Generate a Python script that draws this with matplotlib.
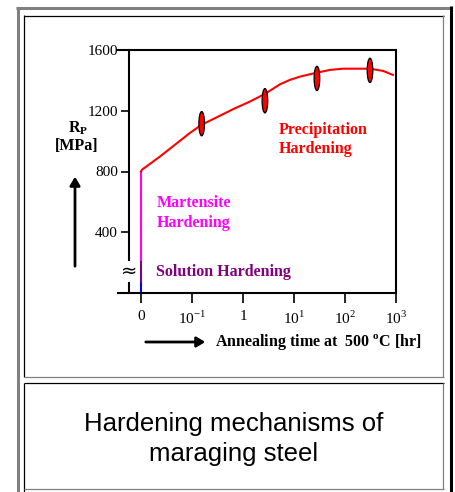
import numpy as np
import matplotlib
matplotlib.use("Agg")
import matplotlib.pyplot as plt
from matplotlib.patches import Ellipse
from matplotlib.lines import Line2D

plt.rcParams['font.family'] = ['Liberation Serif', 'DejaVu Serif']
plt.rcParams['mathtext.fontset'] = 'custom'
plt.rcParams['mathtext.rm'] = 'Liberation Serif'
plt.rcParams['mathtext.bf'] = 'Liberation Serif:bold'

# data (x position: 0 = "0", then one step per decade from 10^-1 to 10^3)
tick_pos = [0, 1, 2, 3, 4, 5]
tick_labels = ['0', '10$^{-1}$', '1', '10$^{1}$', '10$^{2}$', '10$^{3}$']
y_ticks = [400, 800, 1200, 1600]

# vertical jump at t = 0
solution_rng = [0, 72]
solution2_rng = [72, 216]
martensite_rng = [216, 800]

# precipitation curve
curve_x = [0, 0.02, 0.37, 0.96, 1.19, 1.48, 1.81, 2.14, 2.43, 2.73, 2.92,
           3.12, 3.31, 3.45, 3.71, 3.96, 4.49, 4.75, 4.94]
curve_y = [800, 812, 898, 1054, 1108, 1156, 1211, 1261, 1311, 1375, 1403,
           1425, 1440, 1451, 1469, 1477, 1477, 1462, 1436]

# scatter bands of measurements
meas_x = [1.19, 2.43, 3.45, 4.49]
meas_y = [1115, 1266, 1413, 1466]

W, H = 456, 492
fig = plt.figure(figsize=(W / 100, H / 100), dpi=100)


def fx(x):
    return x / W


def fy(y):
    return 1 - y / H


def fline(xs, ys, color, lw):
    fig.add_artist(Line2D([fx(v) for v in xs], [fy(v) for v in ys],
                          color=color, lw=lw, transform=fig.transFigure,
                          solid_capstyle='butt'))


# outer frame
fline([16, 451], [8, 8], '#808080', 2.2)
fline([17.5, 17.5], [7, 492], '#808080', 2.2)
fline([451.5, 451.5], [6, 492], 'black', 2.2)
# chart panel
fline([24, 444], [15.5, 15.5], 'black', 0.9)
fline([24.5, 24.5], [15, 377], 'black', 0.9)
fline([443.5, 443.5], [15, 377], '#808080', 0.9)
fline([24, 444], [377, 377], '#808080', 0.9)
# caption panel
fline([24, 444], [383, 383], 'black', 0.9)
fline([24.5, 24.5], [383, 492], 'black', 0.9)
fline([443.5, 443.5], [383, 489], '#808080', 0.9)
fline([24, 444], [488.5, 488.5], '#808080', 0.9)

# axes: 118..396 px wide, 50..293 px high
ax = fig.add_axes([fx(118), fy(293), fx(396) - fx(118), fy(50) - fy(293)])
ax.set_xlim(-0.451, 5)
ax.set_ylim(0, 1600)
for s in ax.spines.values():
    s.set_linewidth(1.5)
ax.spines['left'].set_position(('data', -0.235))

ax.set_xticks(tick_pos)
ax.set_xticklabels(tick_labels)
ax.set_yticks(y_ticks)
ax.tick_params(axis='both', direction='out', width=1.2, labelsize=11)
ax.tick_params(axis='y', length=6, pad=2)
ax.tick_params(axis='x', length=7, pad=5)

ax.plot([0, 0], solution_rng, color='#0000ff', lw=1.5)
ax.plot([0, 0], solution2_rng, color='#800080', lw=1.5)
ax.plot([0, 0], martensite_rng, color='#ff00ff', lw=1.5)
ax.plot(curve_x, curve_y, color='red', lw=1.5)
for mx, my in zip(meas_x, meas_y):
    ax.add_patch(Ellipse((mx, my), 0.11, 160, fc='red', ec='black', lw=0.9, zorder=3))

# axis break mark
ax.text(-0.235, 140, '≈', ha='center', va='center', fontsize=14,
        family='DejaVu Sans', clip_on=False,
        bbox=dict(fc='white', ec='none', pad=0.5), zorder=5)

bold = dict(fontweight='bold', fontsize=11.5)
ax.text(2.7, 1012, 'Precipitation\nHardening', color='red', ha='left', va='center',
        linespacing=1.3, **bold)
ax.text(0.3, 525, 'Martensite\nHardening', color='#ff00ff', ha='left', va='center',
        linespacing=1.3, **bold)
ax.text(0.29, 135, 'Solution Hardening', color='#800080', ha='left', va='center', **bold)

# y label and arrow
fig.text(fx(78), fy(128), 'R$_\\mathbf{P}$', ha='center', va='center', **bold)
fig.text(fx(77), fy(146), '[MPa]', ha='center', va='center', **bold)
fig.add_artist(matplotlib.patches.FancyArrowPatch(
    (fx(75), fy(269)), (fx(75), fy(174)), transform=fig.transFigure,
    arrowstyle='-|>,head_length=5,head_width=3', color='black', lw=2))

# x label and arrow
fig.add_artist(matplotlib.patches.FancyArrowPatch(
    (fx(143), fy(342)), (fx(208), fy(342)), transform=fig.transFigure,
    arrowstyle='-|>,head_length=5,head_width=3', color='black', lw=2))
fig.text(fx(215), fy(342), 'Annealing time at  500 $^\\mathbf{o}$C [hr]',
         ha='left', va='center', **bold)

# caption
fig.text(fx(234), fy(439), 'Hardening mechanisms of\nmaraging steel', ha='center',
         va='center', fontsize=18.5, family='Liberation Sans', linespacing=1.3)

fig.savefig('out.png', dpi=100)
